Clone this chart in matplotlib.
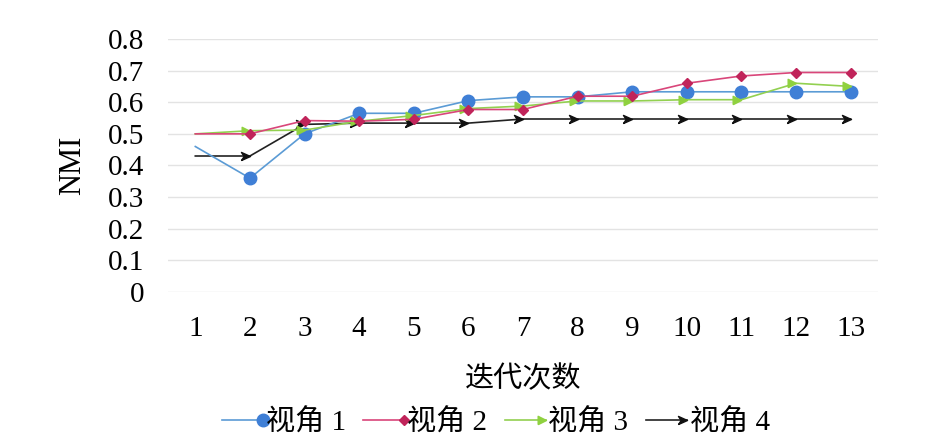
import numpy as np
import matplotlib
matplotlib.use('Agg')
import matplotlib.pyplot as plt
from matplotlib.legend_handler import HandlerLine2D

plt.rcParams['font.family'] = ['Liberation Serif', 'Noto Sans CJK SC', 'DejaVu Sans']

# iterations 1..13
iters = list(range(1, 14))

# NMI per view
view1 = [0.46, 0.36, 0.50, 0.565, 0.565, 0.605, 0.617, 0.617, 0.633, 0.633, 0.633, 0.633, 0.633]
view2 = [0.50, 0.50, 0.542, 0.540, 0.546, 0.577, 0.577, 0.619, 0.619, 0.660, 0.683, 0.694, 0.694]
view3 = [0.50, 0.51, 0.512, 0.540, 0.558, 0.580, 0.588, 0.604, 0.604, 0.608, 0.608, 0.660, 0.650]
view4 = [0.43, 0.43, 0.530, 0.534, 0.534, 0.534, 0.547, 0.547, 0.547, 0.547, 0.547, 0.547, 0.547]

labels = ['视角 1', '视角 2', '视角 3', '视角 4']
yticks = [0, 0.1, 0.2, 0.3, 0.4, 0.5, 0.6, 0.7, 0.8]

# marker shapes with the tip at the data point
tri = [(-2, -1), (0, 0), (-2, 1), (-2, -1)]
arrow = [(-2, -0.9), (0, 0), (-2, 0.9), (-1.4, 0), (-2, -0.9)]


class EndMarker(HandlerLine2D):
    # legend key: line with the marker at its right end
    def create_artists(self, legend, orig_handle, xdescent, ydescent,
                       width, height, fontsize, trans):
        arts = super().create_artists(legend, orig_handle, xdescent, ydescent,
                                      width, height, fontsize, trans)
        line = arts[0]
        n = len(line.get_xdata())
        line.set_markevery([n - 1])
        return arts


fig, ax = plt.subplots(figsize=(9.46, 4.46), dpi=100)
fig.subplots_adjust(left=0.1776, right=0.928, bottom=0.3453, top=0.9126)

every = slice(1, None)
ax.plot(iters, view1, color='#5b9bd5', lw=1.2, marker='o', ms=9,
        mfc='#3f7fd6', mec='#3f7fd6', markevery=every, label=labels[0], zorder=3)
ax.plot(iters, view2, color='#d9467a', lw=1.2, marker='D', ms=5.5,
        mfc='#c0245a', mec='#c0245a', markevery=every, label=labels[1], zorder=4)
ax.plot(iters, view3, color='#92d050', lw=1.2, marker=tri, ms=12,
        mfc='#8fd13f', mec='#8fd13f', markevery=every, label=labels[2], zorder=3)
ax.plot(iters, view4, color='#222222', lw=1.2, marker=arrow, ms=13,
        mfc='#111111', mec='#111111', markevery=every, label=labels[3], zorder=2)

ax.set_xlim(0.5, 13.5)
ax.set_ylim(0, 0.8)
ax.set_xticks(iters)
ax.set_yticks(yticks)
ax.set_yticklabels([('%g' % v) for v in yticks])
ax.grid(axis='y', color='#e3e3e3', lw=1)
ax.set_axisbelow(True)
for s in ax.spines.values():
    s.set_visible(False)
ax.tick_params(length=0, labelsize=21, pad=17)

ax.set_xlabel('迭代次数', fontsize=21, labelpad=17)
ax.set_ylabel('NMI', fontsize=22, labelpad=15)

ax.legend(loc='center', bbox_to_anchor=(0.462, -0.518), ncol=4, frameon=False,
          fontsize=21, numpoints=1, handlelength=1.4, handletextpad=0.1,
          columnspacing=0.6, borderaxespad=0,
          handler_map={plt.Line2D: EndMarker()})

fig.savefig('out.png', dpi=100)
